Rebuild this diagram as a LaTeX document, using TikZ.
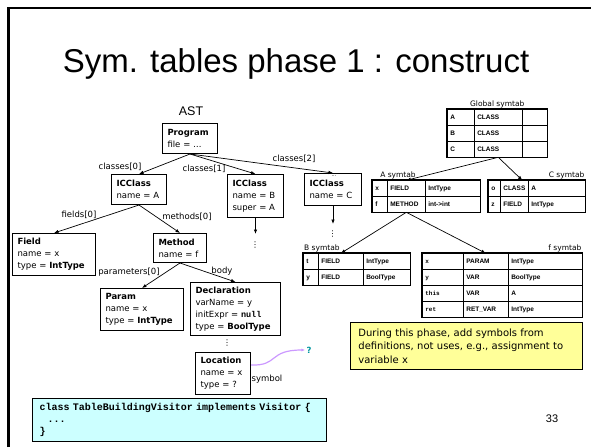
\documentclass[tikz,border=0pt]{standalone}
\usepackage{fontspec}
\setmainfont{DejaVu Sans}
\setmonofont{Liberation Mono}
\newfontfamily\slidefont{Liberation Sans}
\usepackage{tikz}
\usetikzlibrary{arrows.meta,positioning,calc,matrix}
\definecolor{NoteYellow}{RGB}{255,255,153}
\definecolor{CodeCyan}{RGB}{204,255,255}
\definecolor{SymLilac}{RGB}{204,153,255}
\definecolor{QTeal}{RGB}{0,150,160}

\begin{document}
\begin{tikzpicture}[
    x=1pt, y=-1pt,
    astbox/.style 2 args={
      draw, line width=1pt, fill=white, anchor=north west,
      align=left, inner xsep=5pt, inner ysep=2pt,
      font=\fontsize{8.5}{12}\selectfont,
      text width=#1, minimum height=#2
    },
    edge/.style={-{Latex[length=4.5pt,width=3.5pt]}, line width=0.7pt},
    lbl/.style={font=\fontsize{8.5}{10}\selectfont, inner sep=0pt},
    vdots/.style={font=\fontsize{8}{8}\selectfont, inner sep=0pt},
    cell/.style={
      draw, line width=0.6pt, align=left, outer sep=0pt,
      font=\slidefont\bfseries\fontsize{6.5}{7}\selectfont,
      inner xsep=3pt, inner ysep=0pt,
      text height=5pt, text depth=1.5pt, minimum height=16pt
    },
    symtab/.style={
      matrix of nodes, nodes={cell}, nodes in empty cells,
      column sep=-0.6pt, row sep=-0.6pt,
      inner sep=0pt, outer sep=0pt, anchor=north west
    },
    tabname/.style={font=\fontsize{7.5}{9}\selectfont, inner sep=1pt}
  ]

  \fill[white] (0,0) rectangle (591,447);
  \useasboundingbox (0,0) rectangle (591,447);
  \draw[line width=2.7pt, line join=miter] (8.7,447) -- (8.7,8) -- (591,8);

  \node[font=\slidefont\fontsize{33}{36}\selectfont, anchor=base] (title)
    at (296,72) {Sym. tables phase 1 : construct};

  % AST
  \node[font=\slidefont\fontsize{12.5}{14}\selectfont, anchor=base] (astlbl)
    at (191,115) {AST};

  \node[astbox={45pt}{30pt}] (prog) at (162,123)
    {\textbf{Program}\\file = \dots};
  \node[astbox={45pt}{30pt}] (icA) at (111,174)
    {\textbf{ICClass}\\name = A};
  \node[astbox={46pt}{43pt}] (icB) at (227,174)
    {\textbf{ICClass}\\name = B\\super = A};
  \node[astbox={47pt}{32pt}] (icC) at (304,173)
    {\textbf{ICClass}\\name = C};
  \node[font=\fontsize{5}{5}\selectfont, inner sep=0pt] (cellip) at (334,176) {...};
  \node[astbox={73pt}{42pt}] (field) at (12,233)
    {\textbf{Field}\\name = x\\type = \textbf{IntType}};
  \node[astbox={43pt}{29pt}] (method) at (153,233)
    {\textbf{Method}\\name = f};
  \node[astbox={73pt}{42pt}] (param) at (100,288)
    {\textbf{Param}\\name = x\\type = \textbf{IntType}};
  \node[astbox={80pt}{53pt}] (decl) at (190,282)
    {\textbf{Declaration}\\varName = y\\initExpr = \texttt{\bfseries null}\\type = \textbf{BoolType}};
  \node[astbox={45pt}{42pt}] (loc) at (195,352)
    {\textbf{Location}\\name = x\\type = ?};

  \draw[edge] (prog.south) -- (icA.north);
  \draw[edge] (prog.south) -- (icB.north);
  \draw[edge] (prog.south) -- (icC.north);
  \draw[edge] (icA.south) -- (field.north);
  \draw[edge] (icA.south) -- (method.north);
  \draw[edge] (method.south) -- (param.north);
  \draw[edge] (method.south) -- (decl.north);

  \coordinate (bmore) at ($(icB.south)+(0,16)$);
  \coordinate (cmore) at ($(icC.south)+(0,18)$);
  \draw[edge] (icB.south) -- (bmore);
  \draw[edge] (icC.south) -- (cmore);
  \node[vdots] (bdots) at (255,245) {\char"22EE};
  \node[vdots] (cdots) at (332.5,234) {\char"22EE};
  \node[vdots] (ddots) at (227,343) {\char"22EE};

  \node[lbl] (c0) at (120,167) {classes[0]};
  \node[lbl] (c1) at (204,169) {classes[1]};
  \node[lbl] (c2) at (294,159) {classes[2]};
  \node[lbl] (f0) at (79,215) {fields[0]};
  \node[lbl] (m0) at (187,217) {methods[0]};
  \node[lbl] (p0) at (129,272) {parameters[0]};
  \node[lbl] (bd) at (222,271) {body};
  \node[lbl] (sy) at (267,379) {symbol};

  % symbol link
  \coordinate (symstart) at ($(loc.north east)+(0,13)$);
  \node[font=\bfseries\fontsize{8.5}{10}\selectfont, text=QTeal, inner sep=1pt]
    (qmark) at (309,350) {?};
  \draw[-{Latex[length=4pt,width=3pt]}, SymLilac, line width=1.2pt]
    (symstart) .. controls (279,366) and (268,350) .. (qmark.west);

  % symbol tables
  \matrix[symtab,
    column 1/.style={nodes={text width=21pt}},
    column 2/.style={nodes={text width=42pt}},
    column 3/.style={nodes={text width=19pt}}] (gtab) at (447,109)
  {A & CLASS & \\ B & CLASS & \\ C & CLASS & \\};

  \matrix[symtab,
    column 1/.style={nodes={text width=9pt}},
    column 2/.style={nodes={text width=32pt}},
    column 3/.style={nodes={text width=49pt}}] (atab) at (372,180)
  {x & FIELD & IntType \\ f & METHOD & int->int \\};

  \matrix[symtab,
    column 1/.style={nodes={text width=6pt}},
    column 2/.style={nodes={text width=22pt}},
    column 3/.style={nodes={text width=51pt}}] (ctab) at (488,180)
  {o & CLASS & A \\ z & FIELD & IntType \\};

  \matrix[symtab,
    column 1/.style={nodes={text width=9pt}},
    column 2/.style={nodes={text width=39pt}},
    column 3/.style={nodes={text width=41pt}}] (btab) at (303,253)
  {t & FIELD & IntType \\ y & FIELD & BoolType \\};

  \matrix[symtab,
    column 1/.style={nodes={text width=35pt, font=\ttfamily\bfseries\fontsize{6}{7}\selectfont}},
    column 2/.style={nodes={text width=39pt}},
    column 3/.style={nodes={text width=68pt}}] (ftab) at (422,253)
  {x & PARAM & IntType \\ y & VAR & BoolType \\
   this & VAR & A \\ ret & RET\_VAR & IntType \\};

  \foreach \t in {gtab,atab,ctab,btab,ftab}
    \draw[line width=1.2pt] (\t.north west) rectangle (\t.south east);

  \node[tabname, anchor=south] (glbl) at (gtab.north) {Global symtab};
  \node[tabname, anchor=south] (albl) at (398,180) {A symtab};
  \node[tabname, anchor=south east] (clbl) at (ctab.north east) {C symtab};
  \node[tabname, anchor=south west] (blbl) at (btab.north west) {B symtab};
  \node[tabname, anchor=south east] (flbl) at (ftab.north east) {f symtab};

  \draw[edge] (gtab-3-2.south) -- (atab-1-2.north);
  \draw[edge] (gtab-3-2.south) -- ([xshift=8pt]ctab-1-2.north);
  \draw[edge] (atab-2-2.south) -- (btab-1-2.north);
  \draw[edge] (atab-2-2.south) -- (ftab-1-2.north);

  % note and code
  \node[draw, line width=0.8pt, fill=NoteYellow, anchor=north west,
        text width=216pt, minimum height=47pt, inner xsep=8pt, align=left,
        font=\fontsize{10}{13.5}\selectfont] (note) at (350,322)
    {During this phase, add symbols from\\definitions, not uses, e.g., assignment to\\variable x};

  \node[draw, line width=1pt, fill=CodeCyan, anchor=north west,
        text width=280pt, minimum height=43pt, inner xsep=7pt, inner ysep=2pt,
        align=left, font=\ttfamily\bfseries\fontsize{10}{12}\selectfont]
    (visitor) at (32,398)
    {class TableBuildingVisitor implements Visitor \{\\\hspace*{8pt}...\\\}};

  \node[font=\slidefont\fontsize{11}{13}\selectfont, anchor=base] (pgno)
    at (552,422) {33};

\end{tikzpicture}
\end{document}
